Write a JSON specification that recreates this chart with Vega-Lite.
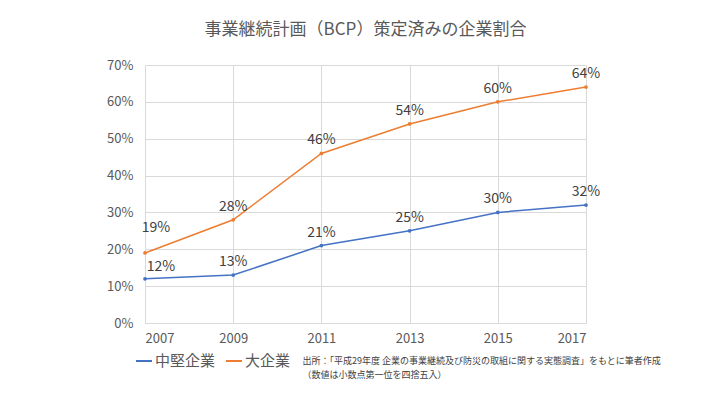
{
  "$schema": "https://vega.github.io/schema/vega-lite/v6.json",
  "width": 441,
  "height": 258,
  "autosize": {"type": "none"},
  "padding": {"left": 145, "top": 65, "right": 124, "bottom": 76},
  "background": "white",
  "config": {
    "font": "Noto Sans CJK JP",
    "view": {"stroke": null},
    "axis": {"labelColor": "#595959", "labelFont": "Noto Sans CJK JP", "gridColor": "#d9d9d9", "gridWidth": 1, "ticks": false}
  },
  "title": {
    "text": "事業継続計画（BCP）策定済みの企業割合",
    "anchor": "middle",
    "fontSize": 17,
    "fontWeight": "normal",
    "color": "#595959",
    "offset": 20
  },
  "data": {
    "values": [
      {"year": 2007, "series": "中堅企業", "value": 0.12},
      {"year": 2009, "series": "中堅企業", "value": 0.13},
      {"year": 2011, "series": "中堅企業", "value": 0.21},
      {"year": 2013, "series": "中堅企業", "value": 0.25},
      {"year": 2015, "series": "中堅企業", "value": 0.30},
      {"year": 2017, "series": "中堅企業", "value": 0.32},
      {"year": 2007, "series": "大企業", "value": 0.19},
      {"year": 2009, "series": "大企業", "value": 0.28},
      {"year": 2011, "series": "大企業", "value": 0.46},
      {"year": 2013, "series": "大企業", "value": 0.54},
      {"year": 2015, "series": "大企業", "value": 0.60},
      {"year": 2017, "series": "大企業", "value": 0.64}
    ]
  },
  "encoding": {
    "x": {
      "field": "year", "type": "quantitative",
      "scale": {"domain": [2007, 2017], "nice": false, "zero": false},
      "axis": {
        "values": [2007, 2009, 2011, 2013, 2015, 2017], "format": "d",
        "labelFontSize": 13, "labelPadding": 9, "domainColor": "#d9d9d9",
        "grid": true,
        "title": ["出所：「平成29年度 企業の事業継続及び防災の取組に関する実態調査」をもとに筆者作成", "　　（数値は小数点第一位を四捨五入）"],
        "titleFontSize": 9, "titleFontWeight": "normal", "titleColor": "#404040",
        "titleAlign": "left", "titleAnchor": null, "titleBaseline": "top",
        "titleX": 157, "titleY": 33, "titleLineHeight": 14
      }
    },
    "y": {
      "field": "value", "type": "quantitative",
      "scale": {"domain": [0, 0.7], "nice": false},
      "axis": {
        "values": [0, 0.1, 0.2, 0.3, 0.4, 0.5, 0.6, 0.7], "format": ".0%",
        "labelFontSize": 13, "labelPadding": 12, "domain": false, "title": null
      }
    },
    "color": {
      "field": "series", "type": "nominal",
      "scale": {"domain": ["中堅企業", "大企業"], "range": ["#4472C4", "#ED7D31"]},
      "legend": {
        "orient": "none", "direction": "horizontal", "title": null,
        "legendX": -10, "legendY": 287,
        "labelFontSize": 15, "labelColor": "#595959",
        "symbolType": "stroke", "symbolSize": 256, "symbolStrokeWidth": 2,
        "columnPadding": 6, "labelOffset": 2
      }
    }
  },
  "layer": [
    {"mark": {"type": "line", "strokeWidth": 1.5, "point": {"size": 14, "filled": true}}},
    {
      "transform": [{"filter": "datum.year != 2007"}],
      "mark": {"type": "text", "dy": -13, "fontSize": 14, "color": "#404040"},
      "encoding": {"text": {"field": "value", "type": "quantitative", "format": ".0%"}, "color": {"value": "#404040"}}
    },
    {
      "transform": [{"filter": "datum.year == 2007 && datum.series == '中堅企業'"}],
      "mark": {"type": "text", "dy": -12, "dx": 16, "fontSize": 14, "color": "#404040"},
      "encoding": {"text": {"field": "value", "type": "quantitative", "format": ".0%"}, "color": {"value": "#404040"}}
    },
    {
      "transform": [{"filter": "datum.year == 2007 && datum.series == '大企業'"}],
      "mark": {"type": "text", "dy": -25, "dx": 11, "fontSize": 14, "color": "#404040"},
      "encoding": {"text": {"field": "value", "type": "quantitative", "format": ".0%"}, "color": {"value": "#404040"}}
    }
  ]
}
